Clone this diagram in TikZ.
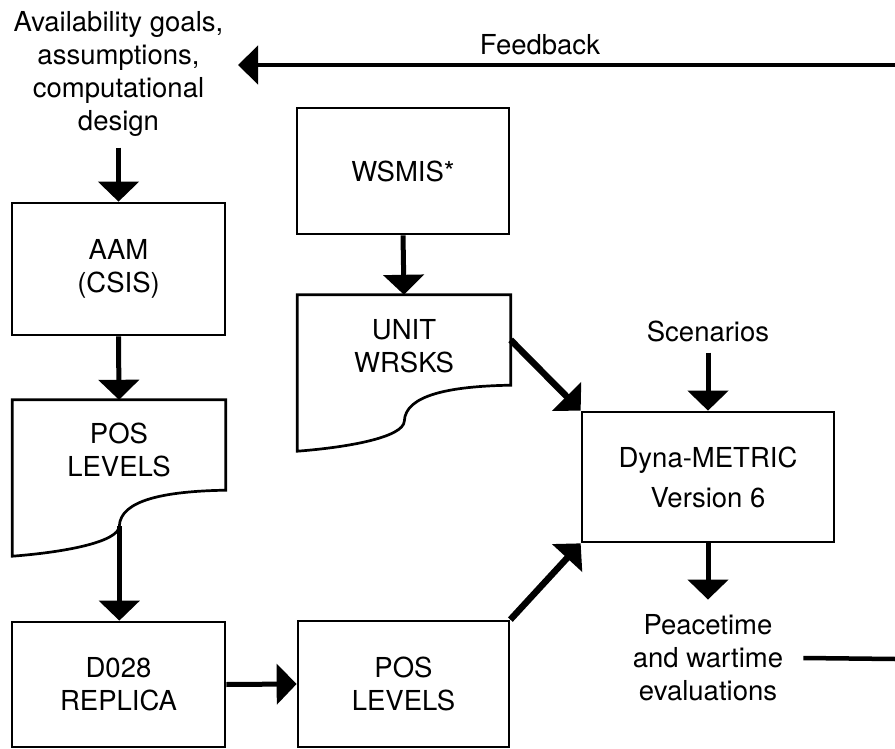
\documentclass[tikz,border=0pt]{standalone}
\usepackage{fontspec}
\setmainfont{TeX Gyre Heros}
\usetikzlibrary{arrows.meta,calc}
\newcommand\mydocoutline[1]{%
  \draw[boxline] (#1.north west) -- (#1.north east) -- (#1.south east)
    .. controls ($(#1.south west)+(152,1)$) and ($(#1.south west)+(108,10)$) .. ($(#1.south west)+(107,36)$) coordinate (#1w)
    .. controls ($(#1.south west)+(106,52)$) and ($(#1.south west)+(52,62)$) .. ($(#1.south west)+(0,66)$) -- cycle;}
\begin{document}
\begin{tikzpicture}[x=1pt,y=-1pt,
  every node/.style={font=\fontsize{27.5}{33}\selectfont, align=center, inner sep=0pt},
  boxline/.style={line width=2.7pt, line join=miter},
  box/.style={draw, boxline, minimum width=213pt, minimum height=128pt},
  docbox/.style={minimum width=213pt, minimum height=90pt},
  arr/.style={line width=5pt, -{Triangle[length=20pt,width=40pt]}},
  diag/.style={line width=6.5pt, -{Triangle[length=20pt,width=40pt]}},
  fbline/.style={line width=4.5pt}]
\fill[white] (0,0) rectangle (895,749);
\useasboundingbox (0,0) rectangle (895,749);

% nodes
\node (goals) at (118.5,74) {Availability goals,\\assumptions,\\computational\\design};
\node (fblabel) at (540,45) {Feedback};
\node[box, minimum height=132pt] (aam) at (118.5,269) {AAM\\(CSIS)};
\node[docbox] (pos1) at (119,445) {};
\node (pos1t) at ([yshift=-5pt]pos1.center) {POS\\LEVELS};
\node[box, minimum height=125pt] (d028) at (118.5,684.5) {D028\\REPLICA};
\node[box, minimum width=211pt, minimum height=126pt] (pos2) at (403.5,684) {POS\\LEVELS};
\node[box, minimum width=212pt, minimum height=126pt] (wsmis) at (403,171) {WSMIS*};
\node[docbox] (unit) at (404,340) {};
\node (unitt) at ([yshift=-6.5pt]unit.center) {UNIT\\WRSKS};
\node[box, minimum width=252pt, minimum height=130pt] (dyna) at (708,477) {Dyna-METRIC\\[7pt]Version 6};
\node (scen) at (708,331) {Scenarios};
\node (peace) at (708,658) {Peacetime\\and wartime\\evaluations};

\mydocoutline{pos1}
\mydocoutline{unit}

\coordinate (fbright) at (895,65);
\coordinate (fbtip) at (238,65);
\coordinate (evright) at (895,659);
\coordinate (unitR) at (unit.east);

% connectors
\draw[arr] ([yshift=-11pt]goals.south) -- (aam.north);
\draw[arr] (aam.south) -- (pos1.north);
\draw[arr] (pos1w) -- (pos1w |- d028.north);
\draw[arr] (d028.east) -- (pos2.west);
\draw[arr] (wsmis.south) -- (unit.north);
\draw[diag] (unitR) -- (dyna.north west);
\draw[diag] (pos2.north east) -- (dyna.south west);
\draw[arr] ([yshift=-11pt]scen.south) -- (dyna.north);
\draw[arr] (dyna.south) -- ([yshift=15pt]peace.north);
\draw[fbline, -{Triangle[length=20pt,width=38pt]}] (fbright) -- (fbtip);
\draw[fbline] ([xshift=20pt]peace.east) -- (evright);
\end{tikzpicture}
\end{document}
